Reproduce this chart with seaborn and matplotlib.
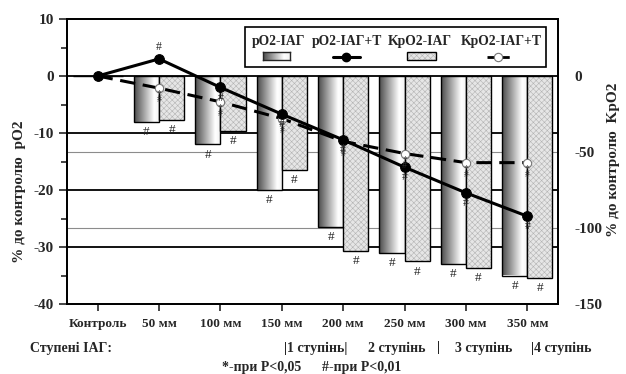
import numpy as np
import pandas as pd
import seaborn as sns
import matplotlib.pyplot as plt
import matplotlib.transforms as mtrans
from matplotlib.colors import LinearSegmentedColormap, to_rgba
from matplotlib.patches import Rectangle
from matplotlib.lines import Line2D

# data
cats = ['Контроль', '50 мм', '100 мм', '150 мм', '200 мм', '250 мм', '300 мм', '350 мм']
po2_bar = [0, -8, -12, -20, -26.5, -31, -33, -35]          # pO2-IAГ, left axis
po2_line = [0, 3, -2, -6.7, -11.2, -16, -20.5, -24.6]      # pO2-IAГ+T, left axis
kpo2_bar = [0, -29, -36, -62, -115, -122, -126, -133]      # KpO2-IAГ, right axis
kpo2_line = [0, -8, -17, -28, -43, -51, -57, -57]          # KpO2-IAГ+T, right axis
sig = ['', '#', '#', '#', '#', '#', '#', '#']
left_ticks = [10, 0, -10, -20, -30, -40]
right_ticks = [0, -50, -100, -150]

sns.set_style('white')
plt.rcParams['font.family'] = ['Liberation Serif', 'DejaVu Serif']
plt.rcParams['font.weight'] = 'bold'
plt.rcParams['hatch.linewidth'] = 0.4

FW, FH = 626, 374
def P(x, y):
    return (x / FW, 1 - y / FH)

HATCH_C = '#b4b4b4'
def hatch_gray(p):
    try:
        p.set_hatchcolor(HATCH_C)
    except AttributeError:
        p._hatch_color = to_rgba(HATCH_C)

W = 0.41
grad = np.linspace(0, 1, 256).reshape(1, -1)
cmap = LinearSegmentedColormap.from_list('g', [(0, '#4a4a4a'), (0.78, '#ffffff'), (1, '#f2f2f2')])

fig = plt.figure(figsize=(6.26, 3.74), dpi=100)
ax = fig.add_axes([67 / FW, 70 / FH, 491 / FW, 285 / FH])
ax2 = ax.twinx()

# grid lines behind the bars
for v in [0, -10, -20, -30]:
    ax.axhline(v, color='black', lw=1.3, zorder=0)
blend = mtrans.blended_transform_factory(ax.transAxes, ax2.transData)
for v in [-50, -100]:
    ax.plot([0, 1], [v, v], transform=blend, color='#8c8c8c', lw=0.8, zorder=0)

# pO2 bars with gradient (left half of each slot)
df1 = pd.DataFrame({'cat': cats, 'val': po2_bar})
sns.barplot(data=df1, x='cat', y='val', ax=ax, width=W, color='white',
            edgecolor='black', linewidth=1, errorbar=None, zorder=2)
for p in list(ax.patches):
    p.set_x(p.get_x() - W / 2)
    p.set_facecolor('none')
    h = p.get_height()
    if h == 0:
        continue
    y0, y1 = sorted([p.get_y(), p.get_y() + h])
    im = ax.imshow(grad, extent=(p.get_x(), p.get_x() + p.get_width(), y0, y1),
                   cmap=cmap, aspect='auto', zorder=1.5)
    im.set_clip_path(p)

# KpO2 bars hatched (right half of each slot)
df2 = pd.DataFrame({'cat': cats, 'val': kpo2_bar})
sns.barplot(data=df2, x='cat', y='val', ax=ax2, width=W, color='#e6e6e6',
            edgecolor='black', linewidth=1, hatch='xxxxxx', errorbar=None, zorder=2)
for p in ax2.patches:
    p.set_x(p.get_x() + W / 2)
    hatch_gray(p)

# lines on top (dashed first so the black marker sits on top at Контроль)
xs = np.arange(len(cats))
sns.lineplot(x=xs, y=kpo2_line, ax=ax2, color='black', lw=2.2, linestyle=(0, (5, 2.5)),
             marker='o', markersize=6, markerfacecolor='white', markeredgecolor='#777777',
             markeredgewidth=0.8, zorder=5)
sns.lineplot(x=xs, y=po2_line, ax=ax2, color='black', lw=2.2, marker='o', markersize=7,
             markeredgecolor='black', transform=ax.transData, zorder=5)

# significance marks
for i, s in enumerate(sig):
    if not s:
        continue
    ax2.annotate(s, (i - W / 2, po2_bar[i]), xycoords=ax.transData, xytext=(0, -3),
                 textcoords='offset points', ha='center', va='top', fontsize=9.5, fontweight='normal')
    ax2.annotate(s, (i + W / 2, kpo2_bar[i]), xytext=(0, -3),
                 textcoords='offset points', ha='center', va='top', fontsize=9.5, fontweight='normal')
    off = 4 if po2_line[i] > 0 else -3
    ax2.annotate(s, (i, po2_line[i]), xycoords=ax.transData, xytext=(0, off),
                 textcoords='offset points', ha='center', va='bottom' if off > 0 else 'top',
                 fontsize=8.5, fontweight='normal', zorder=6)
    ax2.annotate('*\n' + s, (i, kpo2_line[i]), xytext=(0, -1), textcoords='offset points',
                 ha='center', va='top', fontsize=7, linespacing=0.55, fontweight='normal',
                 color='#333333', zorder=6)

ax.set_xlim(-0.5, len(cats) - 0.5)
ax.set_ylim(-40, 10)
ax2.set_ylim(-150, 37.5)
ax.set_xticks(xs)
ax.set_xticklabels(cats, fontsize=9.5, fontweight='bold')
ax.set_yticks(left_ticks)
ax.set_yticklabels([str(t) for t in left_ticks], fontsize=11, fontweight='bold')
ax.set_yticks(np.arange(-35, 10, 10), minor=True)
ax.tick_params(axis='y', which='major', direction='out', length=6, width=1.2, left=True)
ax.tick_params(axis='y', which='minor', direction='out', length=4, width=1.2, left=True)
ax.tick_params(axis='x', direction='out', length=5, width=1.2, bottom=True, pad=5)
ax2.set_yticks(right_ticks)
ax2.set_yticklabels([str(t) for t in right_ticks], fontsize=11, fontweight='bold')
ax2.tick_params(axis='y', length=0, pad=12)
for a in (ax, ax2):
    a.set_xlabel('')
    a.set_ylabel('')
    for sp in a.spines.values():
        sp.set_linewidth(1.3)
        sp.set_color('black')

fig.text(*P(20, 192), '% до контролю  pO2', rotation=90, ha='center', va='center', fontsize=11)
fig.text(*P(614, 160), '% до контролю  KpO2', rotation=90, ha='center', va='center', fontsize=11)

# legend box
fig.add_artist(Rectangle(P(245, 67), 301 / FW, 40 / FH, transform=fig.transFigure,
                         facecolor='white', edgecolor='black', lw=1.2, zorder=3))
leg_labels = ['pO2-IAГ', 'pO2-IAГ+T', 'KpO2-IAГ', 'KpO2-IAГ+T']
leg_x = [279, 347, 420, 501]
for lx, lab in zip(leg_x, leg_labels):
    fig.text(*P(lx, 42), lab, ha='center', va='center', fontsize=9.8, zorder=4)
lax = fig.add_axes([263 / FW, 1 - 60 / FH, 27 / FW, 8 / FH], zorder=4)
lax.imshow(grad, cmap=cmap, aspect='auto')
lax.set_xticks([])
lax.set_yticks([])
for sp in lax.spines.values():
    sp.set_linewidth(1)
r = Rectangle(P(407, 60), 29 / FW, 8 / FH, transform=fig.transFigure, facecolor='#e6e6e6',
              edgecolor='black', hatch='xxxxxx', lw=1, zorder=4)
hatch_gray(r)
fig.add_artist(r)
yl = 1 - 57 / FH
fig.add_artist(Line2D([333 / FW, 346 / FW, 360 / FW], [yl] * 3, color='black', lw=2.2,
                      marker='o', markersize=6, markevery=[1], transform=fig.transFigure, zorder=4))
fig.add_artist(Line2D([487 / FW, 498 / FW, 513 / FW], [yl] * 3, color='black', lw=2,
                      linestyle=(0, (3, 2)), marker='o', markersize=6, markevery=[1],
                      markerfacecolor='white', markeredgecolor='#777777', markeredgewidth=0.8,
                      transform=fig.transFigure, zorder=4))

# notes below the chart
fig.text(*P(30, 348), 'Ступені ІАГ:', ha='left', va='center', fontsize=10)
for x, t in [(284, '|1 ступінь|'), (368, '2 ступінь'), (437, '|'), (455, '3 ступінь'), (531, '|4 ступінь')]:
    fig.text(*P(x, 348), t, ha='left', va='center', fontsize=10)
fig.text(*P(222, 368), '*-при Р<0,05', ha='left', va='center', fontsize=10)
fig.text(*P(322, 368), '#-при Р<0,01', ha='left', va='center', fontsize=10)

fig.savefig('out.png', dpi=100)
